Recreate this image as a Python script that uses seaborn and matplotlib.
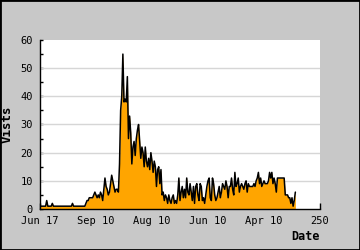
import matplotlib
matplotlib.use("Agg")
import matplotlib.pyplot as plt
import seaborn as sns
import pandas as pd
from matplotlib.patches import Rectangle
from matplotlib.ticker import FixedLocator, MultipleLocator

visits = [
    1, 1, 1, 1, 1, 1, 3, 1, 1, 1, 1, 2,
    1, 1, 1, 1, 1, 1, 1, 1, 1, 1, 1, 1, 1, 1, 1, 1, 1, 2,
    1, 1, 1, 1, 1, 1, 1, 1, 1, 1, 1,
    2, 3, 3, 4, 4, 4, 4, 5, 6, 5, 4, 5, 4, 6, 5, 3, 7, 11, 8, 7,
    5, 6, 9, 12, 10, 8, 6, 7, 7, 6, 16, 35, 40, 55, 38, 39, 38, 47,
    25, 33, 27, 16, 22, 24, 19, 25, 28, 30, 24, 18, 22, 20, 15, 22,
    17, 15, 18, 14, 20, 17, 13, 17, 15, 8, 14, 15, 9, 14, 5, 6, 3, 5,
    4, 2, 5, 3, 2, 4, 5, 2, 3, 2, 5, 11, 3, 6, 8, 4, 7, 4, 11, 6, 5,
    9, 6, 3, 8, 2, 8, 9, 5, 3, 9, 8, 3, 4, 2, 5, 8, 10, 11, 4, 3, 11,
    9, 5, 3, 4, 6, 8, 4, 6, 9, 8, 7, 10, 8, 4, 8, 8, 11, 7, 5, 13, 8,
    9, 11, 6, 8, 9, 8, 7, 9, 10, 6, 9, 8, 8, 8, 8, 9, 8, 10, 11, 13,
    9, 11, 8, 9, 10, 9, 9, 9, 10, 13, 11, 13, 9, 11, 9, 6, 11, 11, 11,
    11, 11, 11, 11, 5, 5, 5, 4, 4, 2, 4, 1, 3, 6,
]
days = list(range(len(visits)))

tick_pos = [0, 50, 100, 150, 200, 250]
tick_labels = ["Jun 17", "Sep 10", "Aug 10", "Jun 10", "Apr 10", "250"]
y_ticks = [0, 10, 20, 30, 40, 50, 60]

df = pd.DataFrame({"day": days, "visits": visits})

sns.set_theme(style="white")
plt.rcParams["font.family"] = ["DejaVu Sans Mono", "DejaVu Sans"]

fig = plt.figure(figsize=(3.6, 2.5), dpi=100, facecolor="#c8c8c8")
ax = fig.add_axes([40 / 360, 41 / 250, 280 / 360, 169 / 250])
ax.set_facecolor("white")

ax.fill_between(df["day"], 0, df["visits"], color="#ffa500", linewidth=0, zorder=2)
sns.lineplot(data=df, x="day", y="visits", ax=ax, color="black", linewidth=1.1, zorder=3)

ax.set_xlim(0, 250)
ax.set_ylim(0, 60)
ax.xaxis.set_major_locator(FixedLocator(tick_pos))
ax.set_xticklabels(tick_labels)
ax.yaxis.set_major_locator(FixedLocator(y_ticks))
ax.yaxis.set_minor_locator(MultipleLocator(5))

for y in y_ticks[1:-1]:
    ax.axhline(y, color="#d6d6d6", linewidth=1.0, zorder=1)

for s in ["top", "right"]:
    ax.spines[s].set_visible(False)
for s in ["left", "bottom"]:
    ax.spines[s].set_color("black")
    ax.spines[s].set_linewidth(1.0)
    ax.spines[s].set_zorder(4)

ax.tick_params(axis="x", which="major", direction="in", length=4, width=1,
               color="black", labelsize=7.5, pad=5, labelcolor="black", bottom=True)
ax.tick_params(axis="y", which="both", direction="in", length=2.5, width=1,
               color="black", labelsize=7.5, pad=5, labelcolor="black", left=True)

ax.set_ylabel("Vists", fontsize=9, fontweight="bold", color="black", labelpad=5)
ax.set_xlabel("Date", fontsize=8.5, fontweight="bold", color="black", loc="right", labelpad=3)

fig.patches.append(Rectangle((0, 0), 1, 1, transform=fig.transFigure, fill=False,
                             edgecolor="black", linewidth=2.0, zorder=10))

fig.savefig("out.png", dpi=100, facecolor=fig.get_facecolor())
